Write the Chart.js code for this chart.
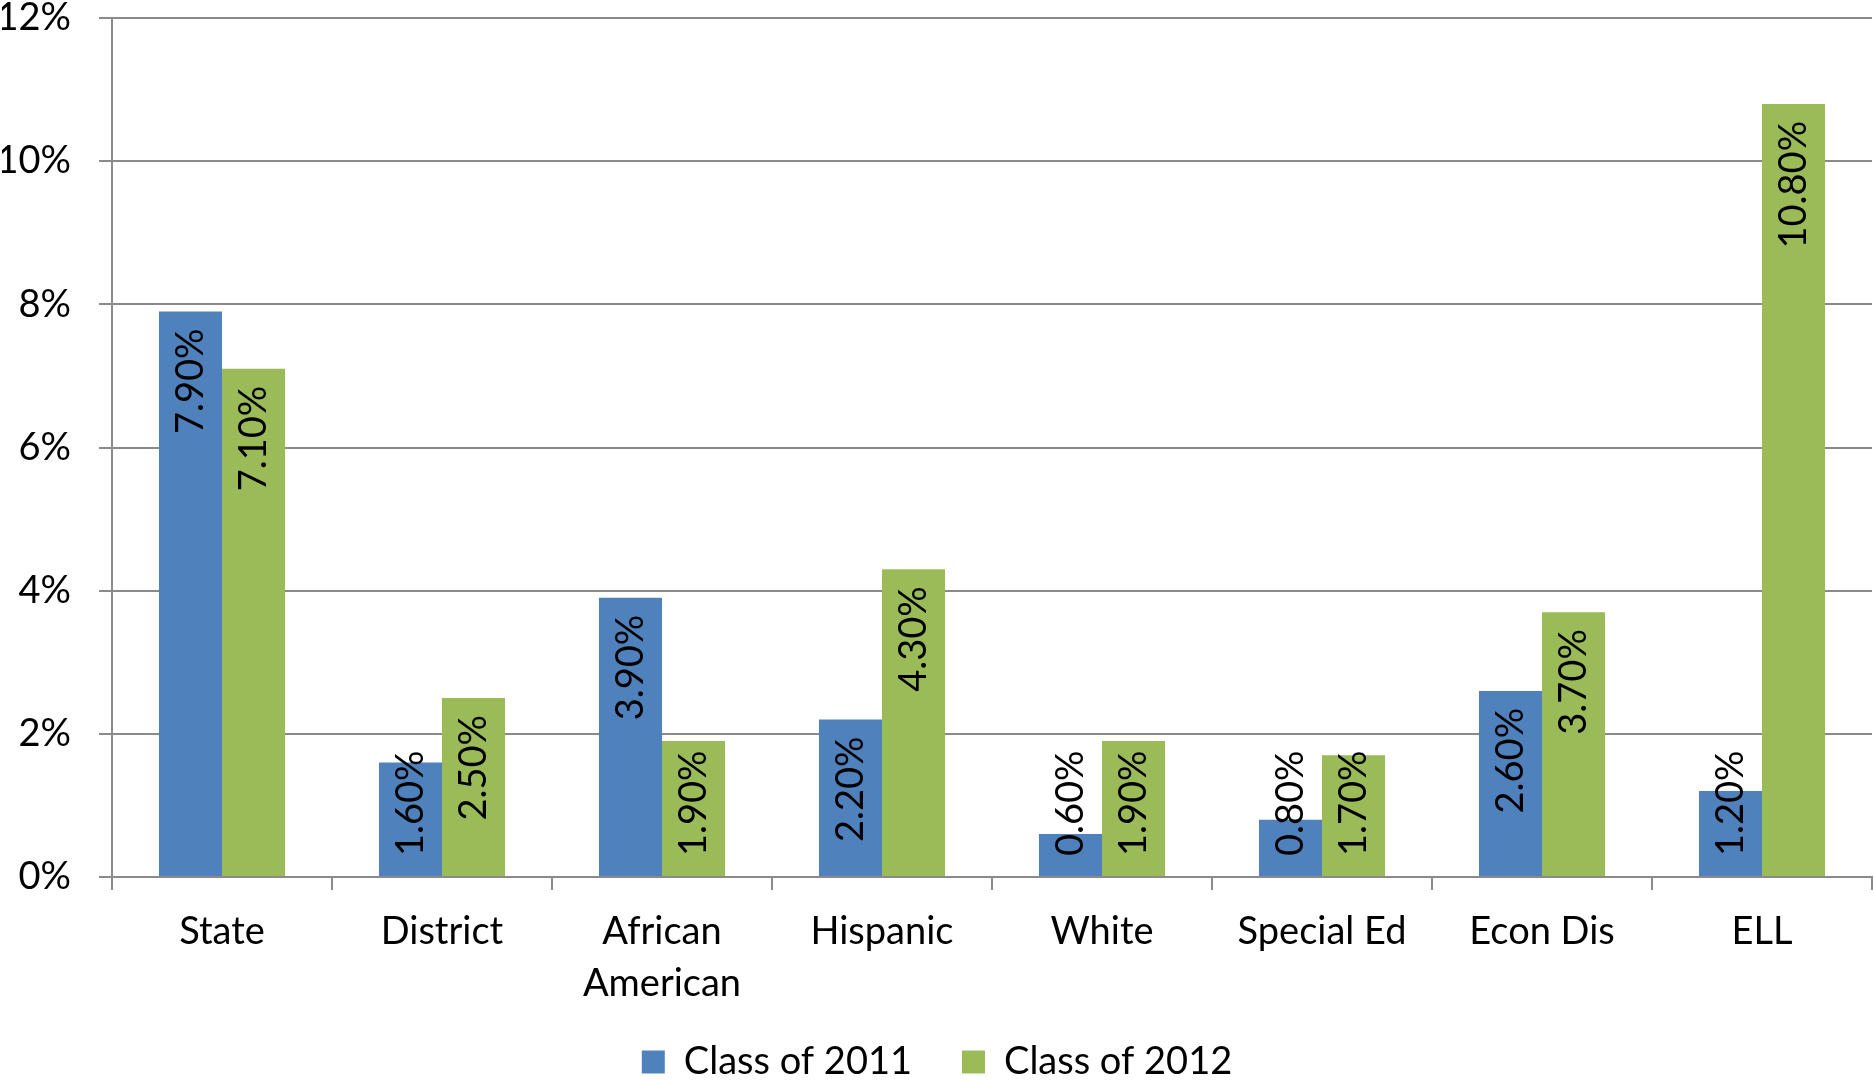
<!DOCTYPE html>
<html>
<head>
<meta charset="utf-8">
<script src="https://cdn.jsdelivr.net/npm/chart.js@4"></script>
<style>
  html, body { margin: 0; padding: 0; background: #fff; }
  #wrap { width: 1874px; height: 1081px; position: relative; }
</style>
</head>
<body>
<div id="wrap"><canvas id="gapChart"></canvas></div>
<script>
const categories = ["State", "District", ["African", "American"], "Hispanic", "White", "Special Ed", "Econ Dis", "ELL"];
const class2011 = [7.9, 1.6, 3.9, 2.2, 0.6, 0.8, 2.6, 1.2];
const class2012 = [7.1, 2.5, 1.9, 4.3, 1.9, 1.7, 3.7, 10.8];
const yTicks = [0, 2, 4, 6, 8, 10, 12];

const FONT = "Lato";
const FONT_SIZE = 38;
const GRID = "#8a8a8a";

// rotated value labels, inside the top of each bar
const barLabels = {
  id: "barLabels",
  afterDatasetsDraw(chart) {
    const ctx = chart.ctx;
    ctx.save();
    ctx.font = `${FONT_SIZE}px ${FONT}`;
    ctx.fillStyle = "#000";
    ctx.textAlign = "left";
    ctx.textBaseline = "middle";
    chart.data.datasets.forEach((ds, i) => {
      const meta = chart.getDatasetMeta(i);
      meta.data.forEach((bar, j) => {
        const text = ds.data[j].toFixed(2) + "%";
        const len = ctx.measureText(text).width;
        let bottom = bar.y + 17 + len;
        if (bottom > bar.base - 20) bottom = bar.base - 20;
        ctx.save();
        ctx.translate(bar.x, bottom);
        ctx.rotate(-Math.PI / 2);
        ctx.fillText(text, 0, 0);
        ctx.restore();
      });
    });
    ctx.restore();
  }
};

// fix legend box height so it sits near the bottom edge
const legendHeight = {
  id: "legendHeight",
  beforeInit(chart) {
    const fit = chart.legend.fit;
    chart.legend.fit = function () {
      fit.bind(chart.legend)();
      this.height = 88;
    };
  }
};

const data = {
  labels: categories,
  datasets: [
    {
      label: "Class of 2011",
      backgroundColor: "#4F81BD",
      data: class2011,
      categoryPercentage: 0.573,
      barPercentage: 1.0,
    },
    {
      label: "Class of 2012",
      backgroundColor: "#9BBB59",
      data: class2012,
      categoryPercentage: 0.573,
      barPercentage: 1.0,
    },
  ],
};

const config = {
  type: "bar",
  data: data,
  plugins: [barLabels, legendHeight],
  options: {
    responsive: true,
    maintainAspectRatio: false,
    animation: false,
    layout: { padding: { top: 3, right: 2, left: 2, bottom: 0 } },
    plugins: {
      tooltip: { enabled: false },
      legend: {
        position: "bottom",
        labels: {
          color: "#000",
          font: { family: FONT, size: FONT_SIZE },
          boxWidth: 23,
          boxHeight: 23,
          padding: 50,
        },
      },
    },
    scales: {
      x: {
        afterFit(axis) {
          axis.height = 116;
          // let the two-line label run past the axis box
          axis._computeLabelArea = () => null;
        },
        grid: {
          offset: true,
          drawOnChartArea: false,
          color: GRID,
          lineWidth: 2,
          tickLength: 13,
        },
        border: { color: GRID, width: 2 },
        ticks: {
          color: "#000",
          font: { family: FONT, size: FONT_SIZE, lineHeight: 1.37 },
          padding: 16,
          maxRotation: 0,
          autoSkip: false,
        },
      },
      y: {
        min: 0,
        max: 12,
        afterBuildTicks(axis) {
          axis.ticks = yTicks.map((v) => ({ value: v }));
        },
        afterFit(axis) {
          axis.width = 110;
          axis.paddingTop = 18;
          axis.paddingBottom = 0;
        },
        grid: { color: GRID, lineWidth: 2, tickLength: 13 },
        border: { color: GRID, width: 2 },
        ticks: {
          color: "#000",
          font: { family: FONT, size: FONT_SIZE },
          padding: 28,
          callback: (v) => v + "%",
        },
      },
    },
  },
};

const gapChart = new Chart(document.getElementById("gapChart"), config);
</script>
</body>
</html>
